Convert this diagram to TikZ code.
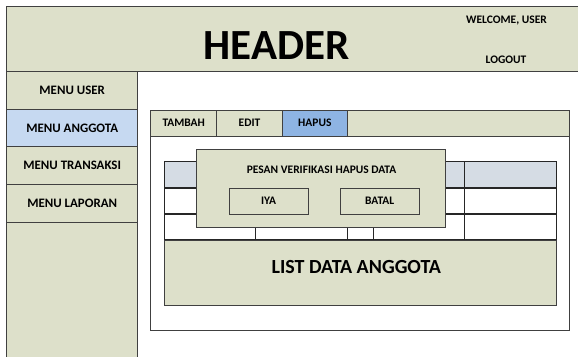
\documentclass[tikz,border=0pt]{standalone}
\usepackage{fontspec}
\setmainfont{Carlito}[BoldFont={Carlito Bold}]
\definecolor{panelgreen}{HTML}{DDE0CA}
\definecolor{menublue}{HTML}{C6D9F1}
\definecolor{tabblue}{HTML}{8EB4E3}
\definecolor{headrow}{HTML}{D5DCE4}
\definecolor{edge}{HTML}{404040}
\begin{document}
\begin{tikzpicture}[x=1pt,y=-1pt,
  box/.style={draw=edge,line width=1pt,fill=panelgreen,inner sep=0pt,outer sep=0pt,anchor=north west,font=\bfseries},
  menutext/.style={font=\fontsize{12.9}{14}\selectfont\bfseries},
  smalltext/.style={font=\fontsize{11.5}{13}\selectfont\bfseries},
  grid/.style={draw=black!85,line width=1.1pt}]
\useasboundingbox (0,0) rectangle (578,356);
\clip (0,0) rectangle (578,356);
\fill[white] (0,0) rectangle (578,356);

% header strip
\node[box,minimum width=600pt,minimum height=65pt] (header) at (6.7,6) {};
\node[font=\fontsize{43}{46}\selectfont\bfseries] (title) at (276.7,45.2) {HEADER};
\node[smalltext] (welcome) at (506.5,20.7) {WELCOME, USER};
\node[smalltext] (logout) at (506,60) {LOGOUT};

% side menu
\node[box,menutext,minimum width=131pt,minimum height=38pt] (muser) at (6.7,71) {MENU USER};
\node[box,menutext,fill=menublue,minimum width=131pt,minimum height=37.7pt] (manggota) at (6.7,109) {MENU ANGGOTA};
\node[box,menutext,minimum width=131pt,minimum height=37.6pt] (mtrans) at (6.7,146.7) {MENU TRANSAKSI};
\node[box,menutext,minimum width=131pt,minimum height=38.2pt] (mlapor) at (6.7,184.3) {MENU LAPORAN};
\node[box,minimum width=131pt,minimum height=200pt] (mrest) at (6.7,222.5) {};

% content panel with tab bar
\node[box,fill=white,minimum width=418.6pt,minimum height=220.7pt] (panel) at (150.7,110) {};
\node[box,minimum width=418.6pt,minimum height=26pt] (tabbar) at (150.7,110) {};
\node[box,smalltext,minimum width=66pt,minimum height=26pt] (ttambah) at (150.7,110) {TAMBAH};
\node[box,smalltext,minimum width=65.6pt,minimum height=26pt] (tedit) at (216.7,110) {EDIT};
\node[box,smalltext,fill=tabblue,minimum width=65pt,minimum height=26pt] (thapus) at (282.3,110) {HAPUS};

% data table
\node[box,draw=none,fill=white,minimum width=392.4pt,minimum height=78.3pt] (table) at (164.3,161.7) {};
\fill[headrow] (table.north west) rectangle (556.7,188);
\draw[grid] (table.north west) rectangle (table.south east);
\draw[grid] (164.3,188) -- (556.7,188);
\draw[grid] (164.3,214) -- (556.7,214);
\foreach \cx in {255.7,347.3,373.3,464.7}
  \draw[grid] (\cx,161.7) -- (\cx,240);

% list area
\node[box,minimum width=392.4pt,minimum height=65pt] (list) at (164.3,240) {};
\node[font=\fontsize{20}{22}\selectfont\bfseries] (listtext) at (356.3,267) {LIST DATA ANGGOTA};

% confirmation dialog
\node[box,minimum width=248.6pt,minimum height=77.7pt] (dialog) at (196.7,149.3) {};
\node[smalltext] (dlgtitle) at (321.5,170) {PESAN VERIFIKASI HAPUS DATA};
\node[box,smalltext,minimum width=78.7pt,minimum height=26.3pt] (byes) at (229.3,188) {IYA};
\node[box,smalltext,minimum width=79.3pt,minimum height=26.3pt] (bcancel) at (340,188) {BATAL};
\end{tikzpicture}
\end{document}
